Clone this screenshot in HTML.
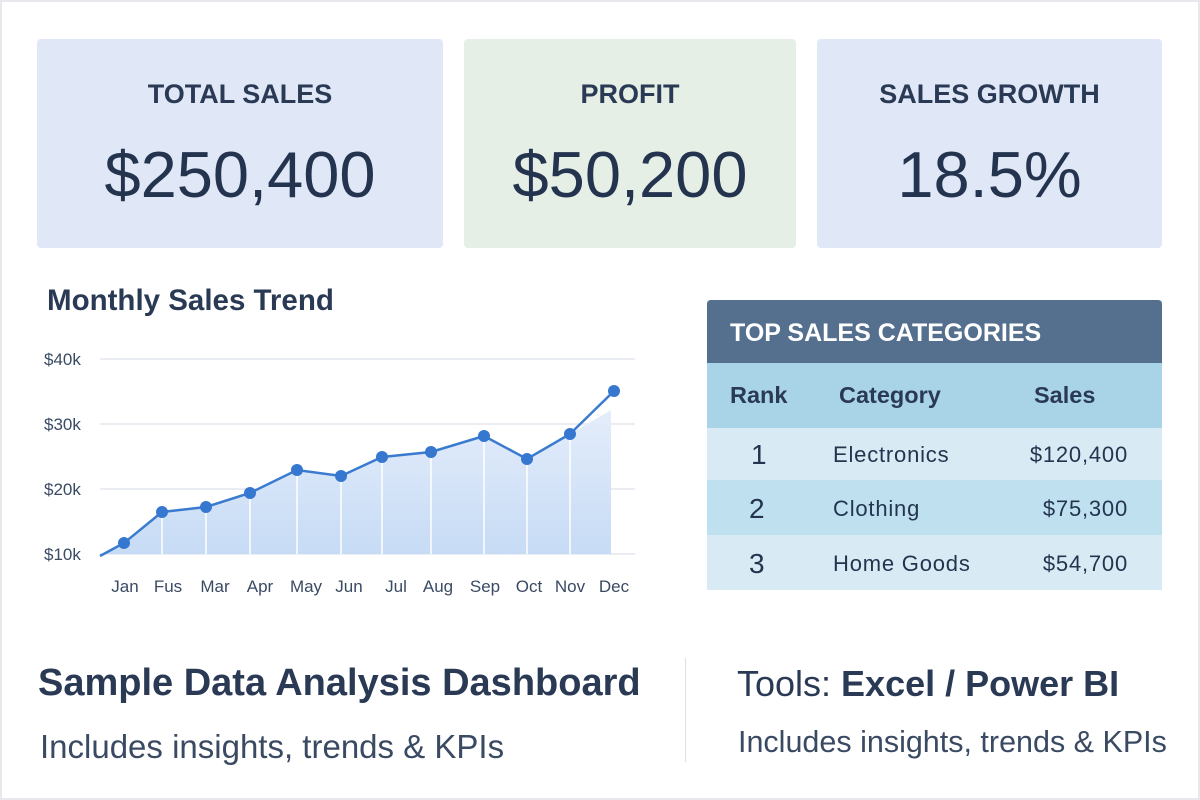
<!DOCTYPE html>
<html><head><meta charset="utf-8"><style>
body{margin:0;width:1200px;height:800px;background:#fff;font-family:"Liberation Sans","DejaVu Sans",sans-serif;color:#24344f;position:relative;overflow:hidden}
.frame{position:absolute;left:0;top:0;width:1196px;height:796px;border:2px solid #e6e8ec}
.card{position:absolute;border-radius:4px;text-align:center}
.card .t{font-size:27px;font-weight:bold;margin-top:40px;color:#2a3a55}
.card .v{font-size:65px;margin-top:32px;color:#24344f;line-height:1}
.a{position:absolute;white-space:nowrap}
</style></head><body>
<div class="frame"></div>
<div class="card" style="left:37px;top:39px;width:406px;height:209px;background:#e0e8f7"><div class="t">TOTAL SALES</div><div class="v">$250,400</div></div>
<div class="card" style="left:464px;top:39px;width:332px;height:209px;background:#e5efe6"><div class="t">PROFIT</div><div class="v">$50,200</div></div>
<div class="card" style="left:817px;top:39px;width:345px;height:209px;background:#e0e8f7"><div class="t">SALES GROWTH</div><div class="v">18.5%</div></div>

<div class="a" style="left:47px;top:284px;font-size:29.5px;font-weight:bold;color:#2a3a55">Monthly Sales Trend</div>
<svg class="a" style="left:0;top:0" width="700" height="620">
<defs><linearGradient id="g" x1="0" y1="0" x2="0" y2="1"><stop offset="0" stop-color="#e4edfb"/><stop offset="1" stop-color="#c6dbf5"/></linearGradient></defs>
<g stroke="#e3e7ee" stroke-width="1.5"><line x1="100" y1="359" x2="635" y2="359"/><line x1="100" y1="424" x2="635" y2="424"/><line x1="100" y1="489" x2="635" y2="489"/><line x1="100" y1="554" x2="635" y2="554"/></g>
<polygon fill="url(#g)" points="100,556 124,543 162,512 206,507 250,493 297,470 341,476 382,457 431,452 484,436 527,459 570,434 611,410 611,554 100,554"/>
<g stroke="#fff" stroke-width="1.5"><line x1="162" y1="512" x2="162" y2="554"/><line x1="206" y1="507" x2="206" y2="554"/><line x1="250" y1="493" x2="250" y2="554"/><line x1="297" y1="470" x2="297" y2="554"/><line x1="341" y1="476" x2="341" y2="554"/><line x1="382" y1="457" x2="382" y2="554"/><line x1="431" y1="452" x2="431" y2="554"/><line x1="484" y1="436" x2="484" y2="554"/><line x1="527" y1="459" x2="527" y2="554"/><line x1="570" y1="434" x2="570" y2="554"/></g>
<polyline fill="none" stroke="#3a7bd0" stroke-width="2.5" points="100,556 124,543 162,512 206,507 250,493 297,470 341,476 382,457 431,452 484,436 527,459 570,434 614,391"/>
<g fill="#3677d0"><circle cx="124" cy="543" r="6"/><circle cx="162" cy="512" r="6"/><circle cx="206" cy="507" r="6"/><circle cx="250" cy="493" r="6"/><circle cx="297" cy="470" r="6"/><circle cx="341" cy="476" r="6"/><circle cx="382" cy="457" r="6"/><circle cx="431" cy="452" r="6"/><circle cx="484" cy="436" r="6"/><circle cx="527" cy="459" r="6"/><circle cx="570" cy="434" r="6"/><circle cx="614" cy="391" r="6"/></g>
<g font-size="17" fill="#3a4a63" font-family="Liberation Sans,sans-serif"><text x="44" y="365">$40k</text><text x="44" y="430">$30k</text><text x="44" y="495">$20k</text><text x="44" y="560">$10k</text></g>
<g font-size="17" fill="#3a4a63" text-anchor="middle" font-family="Liberation Sans,sans-serif"><text x="125" y="592">Jan</text><text x="168" y="592">Fus</text><text x="215" y="592">Mar</text><text x="260" y="592">Apr</text><text x="306" y="592">May</text><text x="349" y="592">Jun</text><text x="396" y="592">Jul</text><text x="438" y="592">Aug</text><text x="485" y="592">Sep</text><text x="529" y="592">Oct</text><text x="570" y="592">Nov</text><text x="614" y="592">Dec</text></g>
</svg>

<div class="a" style="left:707px;top:300px;width:455px;height:290px;background:#deeef6">
<div style="height:63px;background:#55708f;border-radius:4px 4px 0 0;color:#fff;font-weight:bold;font-size:25px;line-height:66px;padding-left:23px">TOP SALES CATEGORIES</div>
<div style="height:65px;background:#a9d4e8;font-size:23.5px;font-weight:bold;line-height:65px;position:relative;color:#2a3a55"><span class="a" style="left:23px">Rank</span><span class="a" style="left:132px">Category</span><span class="a" style="left:327px">Sales</span></div>
<div style="height:52px;background:#d8ebf4;position:relative;font-size:22px;letter-spacing:0.8px;line-height:54px"><span class="a" style="left:44px;font-size:28px">1</span><span class="a" style="left:126px">Electronics</span><span class="a" style="right:34px">$120,400</span></div>
<div style="height:55px;background:#bfe0ef;position:relative;font-size:22px;letter-spacing:0.8px;line-height:58px"><span class="a" style="left:42px;font-size:28px">2</span><span class="a" style="left:126px">Clothing</span><span class="a" style="right:34px">$75,300</span></div>
<div style="height:55px;background:#d8ebf4;position:relative;font-size:22px;letter-spacing:0.8px;line-height:58px"><span class="a" style="left:42px;font-size:28px">3</span><span class="a" style="left:126px">Home Goods</span><span class="a" style="right:34px">$54,700</span></div>
</div>

<div class="a" style="left:38px;top:662px;font-size:38px;font-weight:bold;color:#2a3a55">Sample Data Analysis Dashboard</div>
<div class="a" style="left:40px;top:728px;font-size:33px;color:#3a4a63">Includes insights, trends &amp; KPIs</div>
<div class="a" style="left:685px;top:658px;width:1px;height:104px;background:#dde1e7"></div>
<div class="a" style="left:737px;top:663px;font-size:36px;color:#2a3a55">Tools: <b>Excel / Power BI</b></div>
<div class="a" style="left:738px;top:725px;font-size:30.5px;color:#3a4a63">Includes insights, trends &amp; KPIs</div>
</body></html>
